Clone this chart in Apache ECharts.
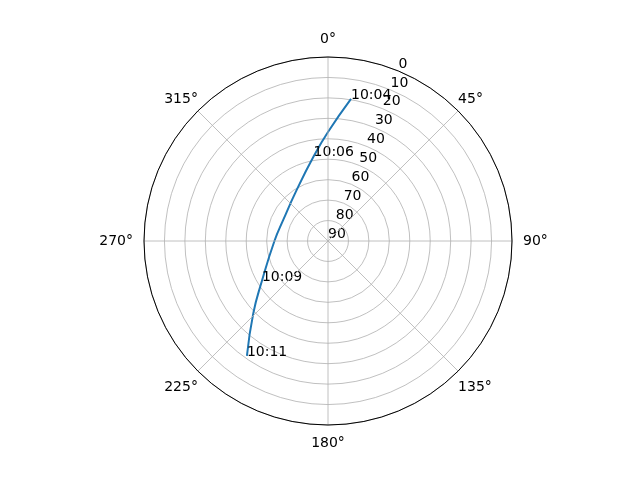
<!DOCTYPE html>
<html>
<head>
<meta charset="utf-8">
<script src="https://cdn.jsdelivr.net/npm/echarts@6/dist/echarts.min.js"></script>
<style>
  html, body { margin: 0; padding: 0; background: #fff; }
  #chart { width: 640px; height: 480px; }
</style>
</head>
<body>
<div id="chart"></div>
<script>
// pass track: elevation (deg, 90 = zenith) and azimuth (deg from north, clockwise)
const elevation = [19.6, 36.7, 48.1, 60.7, 65.8, 63.8, 52.2, 39.1, 21.2];
const azimuth   = [9.2, 0, 350.3, 328.5, 295.2, 270, 238.8, 225.9, 215.2];
const timeLabels = ['10:04', '', '10:06', '', '', '', '10:09', '', '10:11'];

const cardinalTicks = [0, 90, 180, 270];
const diagonalTicks = [45, 135, 225, 315];
const radiusTicks = [0, 10, 20, 30, 40, 50, 60, 70, 80, 90];

const font = 'DejaVu Sans';
const grey = '#b0b0b0';
const center = [328, 241];
const R = 184;

const track = elevation.map((e, i) => [e, azimuth[i]]);
const marks = [];
timeLabels.forEach((t, i) => {
  if (t) marks.push({ value: [elevation[i], azimuth[i]], name: t });
});

// an angle axis that only carries labels (grid drawn by polar 0)
function labelAngleAxis(polarIndex, startAngle, ticks, margin, padding, show) {
  return {
    polarIndex: polarIndex,
    type: 'value',
    startAngle: startAngle,
    clockwise: true,
    min: 0,
    max: 360,
    interval: 45,
    axisLine: { show: false },
    axisTick: { show: false },
    splitLine: { show: false },
    axisLabel: {
      show: show,
      margin: margin,
      padding: padding,
      color: '#000',
      fontFamily: font,
      fontSize: 14,
      formatter: v => ticks.indexOf(v) >= 0 ? v + '°' : ''
    }
  };
}

function hiddenRadiusAxis(polarIndex) {
  return {
    polarIndex: polarIndex,
    type: 'value',
    min: 0,
    max: 90,
    inverse: true,
    axisLine: { show: false },
    axisTick: { show: false },
    axisLabel: { show: false },
    splitLine: { show: false }
  };
}

const chart = echarts.init(document.getElementById('chart'));
chart.setOption({
  backgroundColor: '#fff',
  animation: false,
  polar: [
    { center: center, radius: R },
    { center: center, radius: R },
    { center: center, radius: R }
  ],
  angleAxis: [
    {
      polarIndex: 0,
      type: 'value',
      startAngle: 90,
      clockwise: true,
      min: 0,
      max: 360,
      interval: 45,
      z: 5,
      axisLine: { lineStyle: { color: '#000', width: 1 } },
      axisTick: { show: false },
      axisLabel: {
        margin: 11,
        color: '#000',
        fontFamily: font,
        fontSize: 14,
        formatter: v => cardinalTicks.indexOf(v) >= 0 ? v + '°' : ''
      },
      splitLine: { lineStyle: { color: grey, width: 0.8 } }
    },
    labelAngleAxis(1, 67.5, [], 0, 0, false),
    labelAngleAxis(2, 90, diagonalTicks, 0, [9, 0, 5, 0], true)
  ],
  radiusAxis: [
    {
      polarIndex: 0,
      type: 'value',
      min: 0,
      max: 90,
      interval: 10,
      inverse: true,
      axisLine: { show: false },
      axisTick: { show: false },
      axisLabel: { show: false },
      splitLine: { lineStyle: { color: grey, width: 0.8 } }
    },
    {
      polarIndex: 1,
      type: 'value',
      min: 0,
      max: 90,
      interval: 10,
      inverse: true,
      axisLine: { show: false },
      axisTick: { show: false },
      splitLine: { show: false },
      axisLabel: {
        showMinLabel: true,
        showMaxLabel: true,
        margin: 0,
        rotate: 0,
        align: 'left',
        verticalAlign: 'bottom',
        color: '#000',
        fontFamily: font,
        fontSize: 14,
        formatter: v => radiusTicks.indexOf(v) >= 0 ? String(v) : ''
      }
    },
    hiddenRadiusAxis(2)
  ],
  series: [
    {
      type: 'line',
      coordinateSystem: 'polar',
      polarIndex: 0,
      data: track,
      smooth: true,
      showSymbol: false,
      lineStyle: { color: '#1f77b4', width: 2 },
      z: 3
    },
    {
      type: 'scatter',
      coordinateSystem: 'polar',
      polarIndex: 0,
      data: marks,
      symbolSize: 0,
      itemStyle: { color: '#000', opacity: 1 },
      label: {
        show: true,
        position: [0, 3],
        align: 'left',
        verticalAlign: 'bottom',
        color: '#000',
        textBorderWidth: 0,
        fontFamily: font,
        fontSize: 14,
        formatter: p => p.name
      },
      z: 4
    }
  ]
});
</script>
</body>
</html>
